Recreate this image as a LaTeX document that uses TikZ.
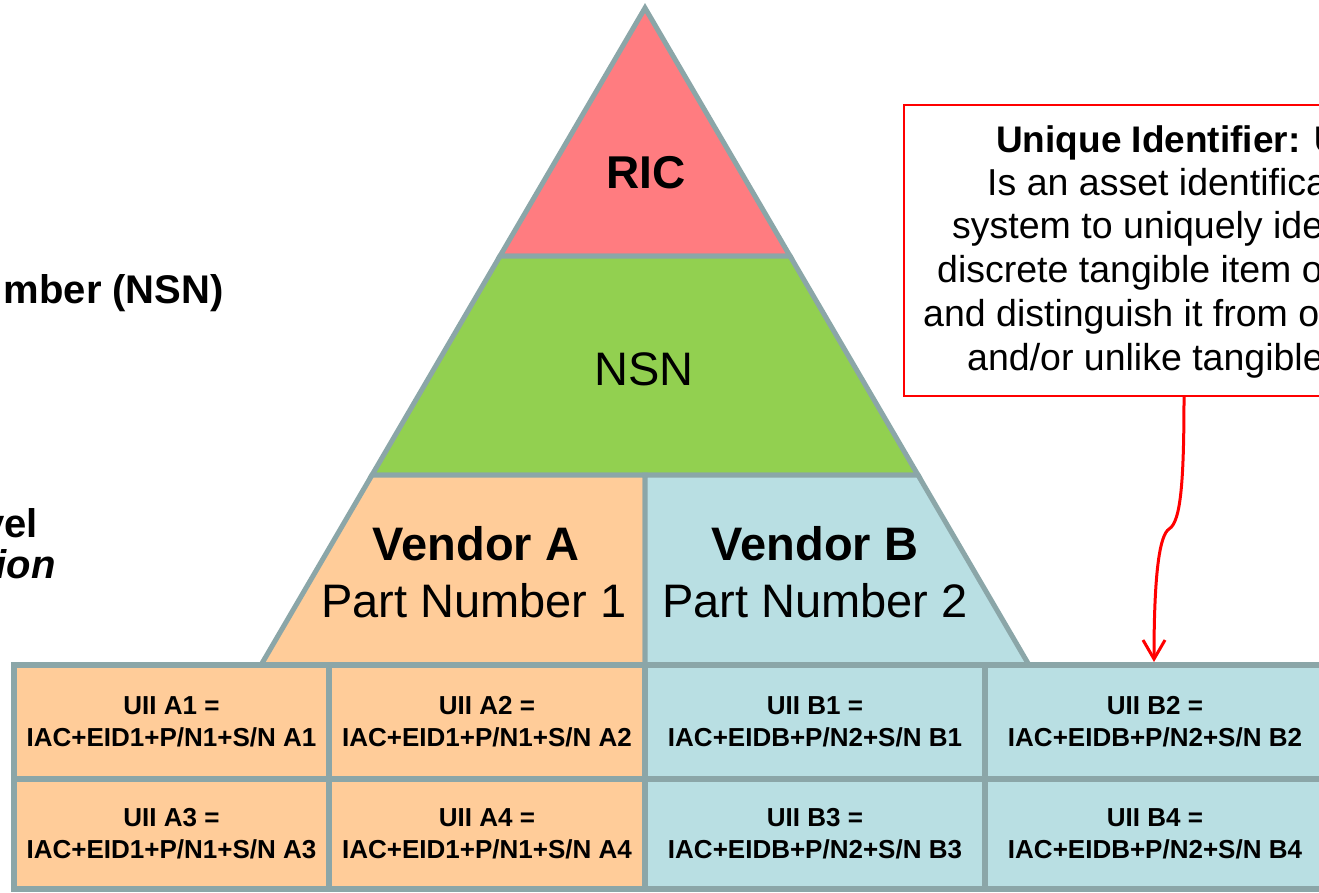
\documentclass[tikz,border=0pt]{standalone}
\usepackage{fontspec}
\setmainfont{Liberation Sans}
\usetikzlibrary{arrows.meta}

\definecolor{edgegray}{HTML}{8BA6A8}
\definecolor{ricred}{HTML}{FF7C80}
\definecolor{nsngreen}{HTML}{92D050}
\definecolor{vendpeach}{HTML}{FFCC99}
\definecolor{vendblue}{HTML}{B9DFE3}
\definecolor{callred}{HTML}{FF0000}

% font size in pt with an explicit baseline skip
\newcommand\pxfont[2]{\fontsize{#1}{#2}\selectfont}

\begin{document}
\begin{tikzpicture}[x=1pt,y=-1pt,
  tier/.style={draw=edgegray,line width=5pt},
  label/.style={inner sep=0pt,anchor=base,text=black},
  cellbox/.style={rectangle,draw=edgegray,line width=6pt,inner sep=0pt,
    align=center,font=\pxfont{26}{32}\bfseries},
  sidetext/.style={inner sep=0pt,anchor=base east,font=\pxfont{40}{48}\bfseries},
  calltext/.style={inner sep=0pt,anchor=base west,font=\pxfont{37.5}{44}},
  pointer/.style={draw=callred,line width=3pt,
    -{Straight Barb[length=19pt,width=22pt]}}
]
\fill[white] (0,0) rectangle (1319,892);
\useasboundingbox (0,0) rectangle (1319,892);

% ---- pyramid corners ----
\coordinate (apex) at (645,8);
\coordinate (r1l) at (500,256);
\coordinate (r1r) at (790,256);
\coordinate (r2l) at (372,475);
\coordinate (r2r) at (918,475);
\coordinate (r3l) at (261,665);
\coordinate (r3r) at (1029,665);
\coordinate (mid2) at (645,475);
\coordinate (mid3) at (645,665);

% ---- pyramid tiers ----
\draw[tier,fill=ricred] (apex) -- (r1r) -- (r1l) -- cycle;
\draw[tier,fill=nsngreen] (r1l) -- (r1r) -- (r2r) -- (r2l) -- cycle;
\draw[tier,fill=vendpeach] (r2l) -- (mid2) -- (mid3) -- (r3l) -- cycle;
\draw[tier,fill=vendblue] (mid2) -- (r2r) -- (r3r) -- (mid3) -- cycle;

\node[label,font=\pxfont{46}{55}\bfseries] (ric) at (646,188) {RIC};
\node[label,font=\pxfont{47}{55}] (nsn) at (644,385) {NSN};
\node[label,font=\pxfont{47}{55}\bfseries] (venA) at (476,560) {Vendor A};
\node[label,font=\pxfont{47}{55}] (pnA) at (474,617) {Part Number 1};
\node[label,font=\pxfont{47}{55}\bfseries] (venB) at (815,560) {Vendor B};
\node[label,font=\pxfont{47}{55}] (pnB) at (815,617) {Part Number 2};

% ---- item grid ----
\node[cellbox,fill=vendpeach,minimum width=315pt,minimum height=114pt] (a1) at (171.5,722)
  {UII A1 =\\IAC+EID1+P/N1+S/N A1};
\node[cellbox,fill=vendpeach,minimum width=316pt,minimum height=114pt] (a2) at (487,722)
  {UII A2 =\\IAC+EID1+P/N1+S/N A2};
\node[cellbox,fill=vendblue,minimum width=340pt,minimum height=114pt] (b1) at (815,722)
  {UII B1 =\\IAC+EIDB+P/N2+S/N B1};
\node[cellbox,fill=vendblue,minimum width=340pt,minimum height=114pt] (b2) at (1155,722)
  {UII B2 =\\IAC+EIDB+P/N2+S/N B2};
\node[cellbox,fill=vendpeach,minimum width=315pt,minimum height=110pt] (a3) at (171.5,834)
  {UII A3 =\\IAC+EID1+P/N1+S/N A3};
\node[cellbox,fill=vendpeach,minimum width=316pt,minimum height=110pt] (a4) at (487,834)
  {UII A4 =\\IAC+EID1+P/N1+S/N A4};
\node[cellbox,fill=vendblue,minimum width=340pt,minimum height=110pt] (b3) at (815,834)
  {UII B3 =\\IAC+EIDB+P/N2+S/N B3};
\node[cellbox,fill=vendblue,minimum width=340pt,minimum height=110pt] (b4) at (1155,834)
  {UII B4 =\\IAC+EIDB+P/N2+S/N B4};

% ---- side labels ----
\node[sidetext] (nsnlabel) at (224,303) {mber (NSN)};
\node[sidetext] (lvlA) at (38,537) {vel};
\node[sidetext,font=\pxfont{40}{48}\bfseries\itshape] (lvlB) at (56,578) {ion};

% ---- callout ----
\node[draw=callred,line width=2pt,fill=white,anchor=north west,inner sep=0pt,
  minimum width=520pt,minimum height=291pt] (callout) at (903,104) {};
\node[calltext,font=\pxfont{37}{44}\bfseries] (ct1) at (996,152) {Unique Identifier: U};
\node[calltext] (ct2) at (987,195) {Is an asset identifica};
\node[calltext] (ct3) at (952,238) {system to uniquely ide};
\node[calltext] (ct4) at (937,282) {discrete tangible item o};
\node[calltext] (ct5) at (923,326) {and distinguish it from ot};
\node[calltext] (ct6) at (967,370) {and/or unlike tangible};

\coordinate (tail) at (1184,395);
\draw[pointer] (tail) .. controls (1184,480) and (1181,522) .. (1169,529)
  .. controls (1160,535) and (1154,570) .. (b2.north -| 1154,0);
\end{tikzpicture}
\end{document}
